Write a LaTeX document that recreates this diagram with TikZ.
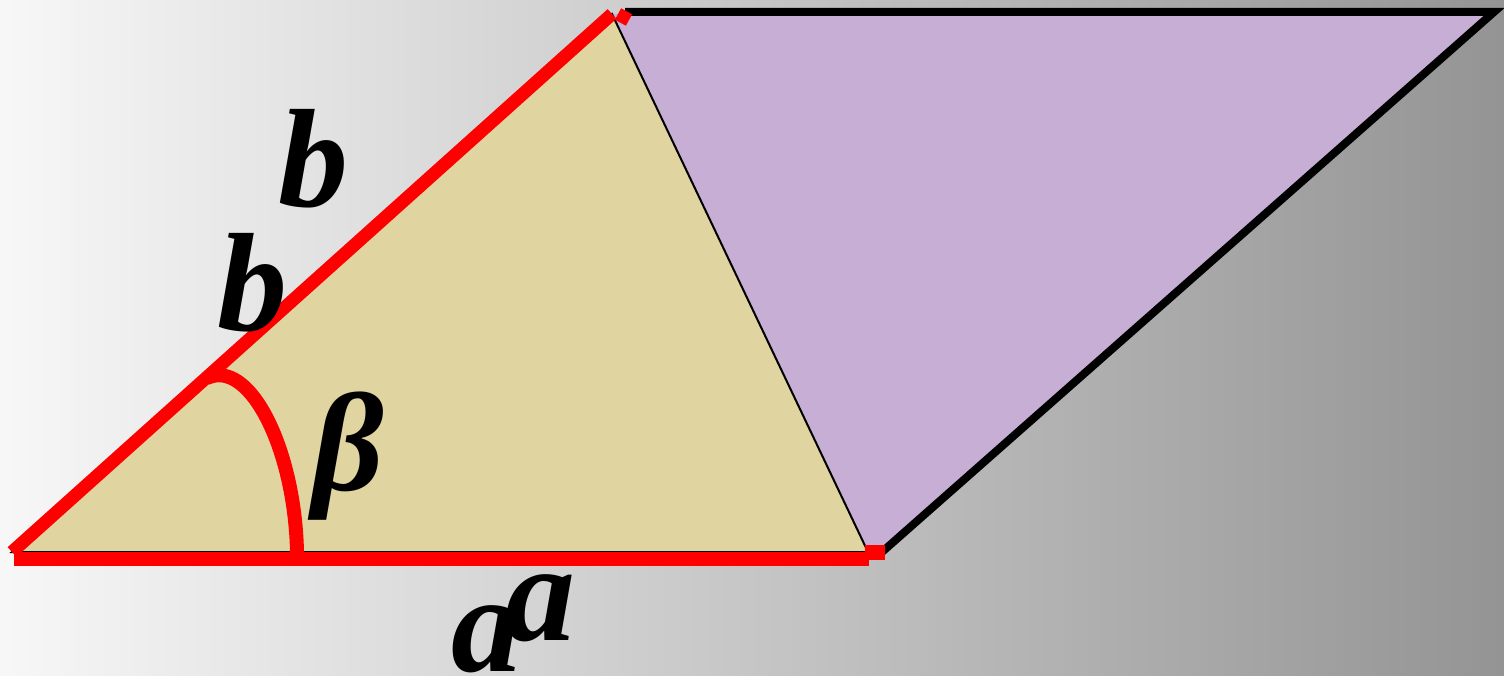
\documentclass[tikz,border=0pt]{standalone}
\usepackage{fontspec}
\setmainfont{Liberation Serif}
\definecolor{tanfill}{RGB}{224,212,161}
\definecolor{purplefill}{RGB}{198,174,212}
\definecolor{redline}{RGB}{255,0,0}
\tikzset{
  lbl/.style={inner sep=0pt, anchor=base, font=\fontsize{140}{140}\selectfont\bfseries\itshape},
  redthick/.style={draw=redline, line width=13pt},
  blackedge/.style={draw=black, line width=8pt, line join=miter},
}
\begin{document}
\begin{tikzpicture}[x=1pt,y=-1pt]
\shade[left color=white!97!black, right color=black!42] (0,0) rectangle (1504,676);
\useasboundingbox (0,0) rectangle (1504,676);
\coordinate (A) at (12,552);
\coordinate (B) at (612,14);
\coordinate (C) at (868,552);
\coordinate (D) at (1494,12);
\coordinate (E) at (882,552);
\coordinate (T1) at (625,12);
% purple parallelogram
\fill[purplefill] (B) -- (D) -- (E) -- (C) -- cycle;
% tan triangle
\fill[tanfill, draw=black, line width=2pt] (A) -- (B) -- (C) -- cycle;
% black outline of the parallelogram
\draw[blackedge] (T1) -- (D) -- (E) -- (C);
% red sides
\draw[redthick] (A) -- (B);
\draw[redthick] (618,14) -- (629,20);
\coordinate (A2) at (14,559);
\coordinate (C2) at (869,559);
\draw[redthick, line width=14pt] (A2) -- (C2);
\fill[redline] (865,545) rectangle (885,560);
% angle arc
\coordinate (P1) at (207,378);
\coordinate (P2) at (297,552);
\draw[redline, line width=14pt] (P1) .. controls (250,358) and (295,450) .. (P2);
% labels
\node[lbl] (b1) at (313,207) {b};
\node[lbl] (b2) at (252,330) {b};
\node[lbl] (beta) at (348,490) {β};
\node[lbl] (a1) at (486,671) {a};
\node[lbl] (a2) at (540,640) {a};
\end{tikzpicture}
\end{document}
